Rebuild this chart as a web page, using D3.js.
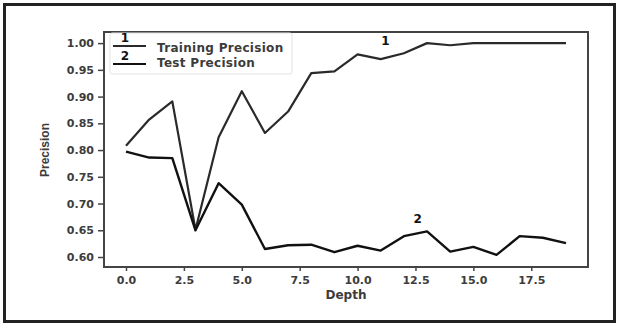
<!DOCTYPE html>
<html><head><meta charset="utf-8">
<script src="https://cdn.jsdelivr.net/npm/d3@7"></script>
<style>html,body{margin:0;padding:0;background:#fff;}svg{display:block;}</style>
</head><body>
<script>
const depths = d3.range(0, 20);
const trainPrecision = [0.808, 0.857, 0.891, 0.651, 0.824, 0.910, 0.832, 0.872, 0.944, 0.947, 0.979, 0.970, 0.981, 1.000, 0.996, 1.000, 1.000, 1.000, 1.000, 1.000];
const testPrecision  = [0.797, 0.786, 0.785, 0.650, 0.738, 0.698, 0.615, 0.622, 0.623, 0.609, 0.621, 0.612, 0.639, 0.648, 0.610, 0.619, 0.604, 0.639, 0.636, 0.626];
const xTicks = [0, 2.5, 5, 7.5, 10, 12.5, 15, 17.5];
const yTicks = [0.60, 0.65, 0.70, 0.75, 0.80, 0.85, 0.90, 0.95, 1.00];
const seriesNames = ["Training Precision", "Test Precision"];
const seriesMarks = ["1", "2"];

const W = 619, H = 324;
const svg = d3.select("body").append("svg").attr("width", W).attr("height", H);
svg.append("rect").attr("width", W).attr("height", H).attr("fill", "#fff");
// outer frame
svg.append("rect").attr("x", 4.5).attr("y", 4.5).attr("width", 610).attr("height", 317)
  .attr("fill", "none").attr("stroke", "#222").attr("stroke-width", 3);

const L = 104, R = 588, T = 32, B = 267;
const x = d3.scaleLinear().domain([-0.95, 19.95]).range([L, R]);
const y = d3.scaleLinear().domain([0.5813, 1.0208]).range([B, T]);

const font = "DejaVu Sans, sans-serif";
const txt = "#3c3c3c";

const xAxis = svg.append("g").attr("transform", `translate(0,${B})`)
  .call(d3.axisBottom(x).tickValues(xTicks).tickFormat(d3.format(".1f")).tickSize(4).tickPadding(5));
const yAxis = svg.append("g").attr("transform", `translate(${L},0)`)
  .call(d3.axisLeft(y).tickValues(yTicks).tickFormat(d3.format(".2f")).tickSize(6).tickPadding(4));
[xAxis, yAxis].forEach(g => {
  g.select(".domain").remove();
  g.selectAll(".tick line").attr("stroke", "#444").attr("stroke-width", 1.5);
  g.selectAll(".tick text").attr("fill", txt).style("font-family", font)
    .style("font-size", "11px").style("font-weight", "bold");
});

// axes box
svg.append("rect").attr("x", L).attr("y", T).attr("width", R - L).attr("height", B - T)
  .attr("fill", "none").attr("stroke", "#444").attr("stroke-width", 2);

const line = d3.line().x((d, i) => x(depths[i])).y(d => y(d));
svg.append("path").datum(trainPrecision).attr("d", line).attr("fill", "none")
  .attr("stroke", "#2a2a2a").attr("stroke-width", 2.2).attr("stroke-linejoin", "round");
svg.append("path").datum(testPrecision).attr("d", line).attr("fill", "none")
  .attr("stroke", "#111").attr("stroke-width", 2.4).attr("stroke-linejoin", "round");

// curve labels
svg.append("text").attr("x", x(11.2)).attr("y", y(1.0) + 2).attr("text-anchor", "middle")
  .style("font-family", font).style("font-size", "12px").style("font-weight", "bold").attr("fill", "#111").text(seriesMarks[0]);
svg.append("text").attr("x", x(12.6)).attr("y", y(0.666) + 1).attr("text-anchor", "middle")
  .style("font-family", font).style("font-size", "12px").style("font-weight", "bold").attr("fill", "#111").text(seriesMarks[1]);

// legend
svg.append("rect").attr("x", 110).attr("y", 33).attr("width", 182).attr("height", 41)
  .attr("fill", "#fff").attr("stroke", "#e2e2e2").attr("stroke-width", 1).attr("rx", 2);
const legY = [46, 64];
seriesNames.forEach((n, i) => {
  svg.append("line").attr("x1", 113).attr("x2", 146).attr("y1", legY[i]).attr("y2", legY[i])
    .attr("stroke", i ? "#111" : "#2a2a2a").attr("stroke-width", 2.2);
  svg.append("text").attr("x", 125).attr("y", legY[i] - 4).attr("text-anchor", "middle")
    .style("font-family", font).style("font-size", "12px").style("font-weight", "bold").attr("fill", "#111").text(seriesMarks[i]);
  svg.append("text").attr("x", 157).attr("y", legY[i] + (i ? -1.5 : 1.5)).attr("dy", "0.35em")
    .style("font-family", font).style("font-size", "12px").style("letter-spacing", "0.3px")
    .style("font-weight", "bold").attr("fill", txt).text(n);
});

// axis labels
svg.append("text").attr("x", (L + R) / 2).attr("y", 295).attr("dy", "0.35em").attr("text-anchor", "middle")
  .style("font-family", font).style("font-size", "12px").style("font-weight", "bold").attr("fill", txt).text("Depth");
svg.append("text").attr("transform", `translate(45,150) rotate(-90)`).attr("dy", "0.35em").attr("text-anchor", "middle")
  .style("font-family", "Liberation Sans, Arial, sans-serif").style("font-size", "12px").style("font-weight", "bold")
  .attr("fill", txt).text("Precision");
</script>
</body></html>
